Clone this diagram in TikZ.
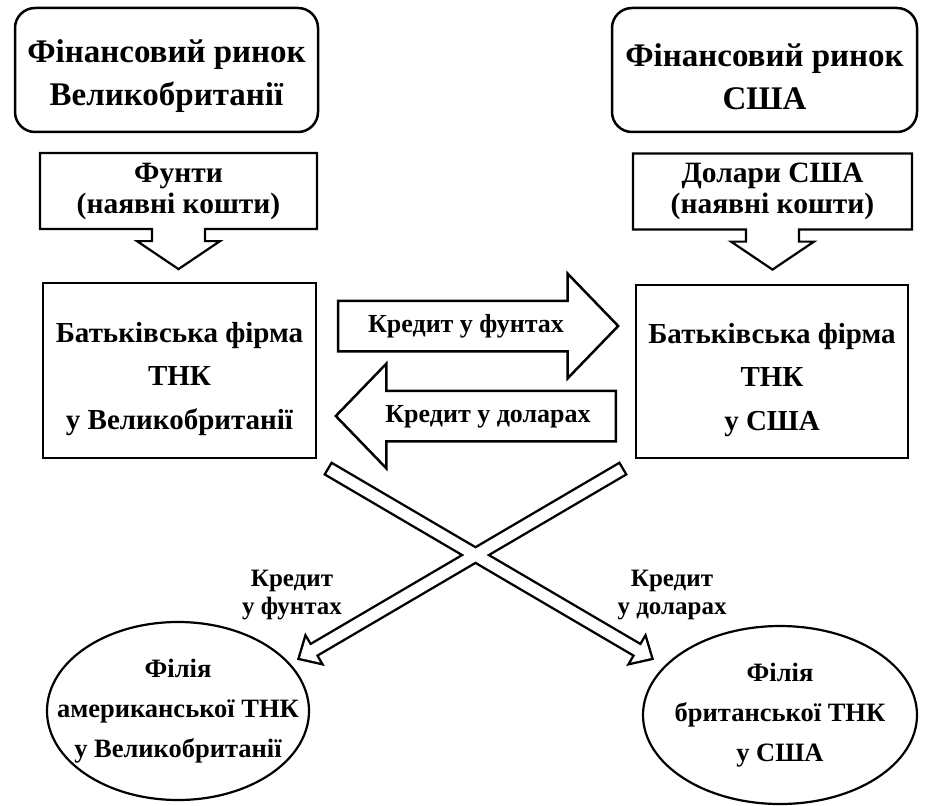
\documentclass[tikz,border=0pt]{standalone}
\usepackage{fontspec}
\setmainfont{Liberation Serif}
\usetikzlibrary{shapes.geometric,shapes.arrows,calc,positioning}

% outline of a thin hollow arrow from #1 to #2, head base at #3
\newcommand{\xarrowpath}[3]{($(#1)!5.5pt!90:(#2)$) -- ($(#3)!5.5pt!90:(#2)$) -- ($(#3)!14pt!90:(#2)$) -- (#2)
  -- ($(#3)!14pt!-90:(#2)$) -- ($(#3)!5.5pt!-90:(#2)$) -- ($(#1)!5.5pt!-90:(#2)$) -- cycle}

\begin{document}
\begin{tikzpicture}[x=1pt, y=-1pt,
  market/.style={draw, line width=2.5pt, rounded corners=20pt, minimum width=303pt, minimum height=124pt,
    align=center, text height=79pt, font=\fontsize{33}{43}\selectfont\bfseries},
  cash/.style={arrow box, draw, line width=2.2pt, minimum width=277pt, minimum height=76pt, align=center,
    arrow box arrows={south:39pt from border}, arrow box shaft width=53pt, arrow box head extend=15pt,
    arrow box head indent=0pt, arrow box tip angle=112, font=\fontsize{29.5}{31}\selectfont\bfseries},
  firm/.style={draw, line width=2.5pt, minimum width=273pt, minimum height=175pt, align=center,
    text height=124pt, font=\fontsize{29}{43.5}\selectfont\bfseries},
  credit/.style={single arrow, draw, line width=2.5pt, minimum height=280pt, single arrow head extend=27pt,
    single arrow tip angle=92, inner xsep=6pt, inner ysep=11.5pt, text height=19pt, text depth=6pt,
    font=\fontsize{26}{30}\selectfont\bfseries},
  branch/.style={ellipse, draw, line width=2.2pt, inner xsep=-45pt, inner ysep=0pt, align=center,
    font=\fontsize{26.5}{40}\selectfont\bfseries},
  note/.style={align=center, font=\fontsize{25}{28}\selectfont\bfseries}]
  \useasboundingbox (0,0) rectangle (928,805);

  \node[market] (topL) at (166.5,70) {Фінансовий ринок\\Великобританії};
  \node[market, minimum width=305pt] (topR) at (764.5,70) {Фінансовий ринок\\США};

  \node[cash] (cashL) at (178.5,191) {Фунти\\(наявні кошти)};
  \node[cash, minimum width=279pt] (cashR) at (772.5,191.5) {Долари США\\(наявні кошти)};

  \node[firm] (firmL) at (179.5,370.5) {Батьківська фірма\\ТНК\\у Великобританії};
  \node[firm, minimum width=272pt, minimum height=173pt] (firmR) at (772,371.5) {Батьківська фірма\\ТНК\\у США};

  \node[credit] (poundLoan) at (466,326) {Кредит у фунтах};
  \node[credit, shape border rotate=180] (dollarLoan) at (488,416) {Кредит у доларах};

  \node[branch, minimum width=262pt, minimum height=178pt] (ellL) at (178,711) {Філія\\американської ТНК\\у Великобританії};
  \node[branch, minimum width=274pt, minimum height=178pt] (ellR) at (780,715) {Філія\\британської ТНК\\у США};

  \node[note] (noteL) at (292,595) {Кредит\\у фунтах};
  \node[note] (noteR) at (672,595) {Кредит\\у доларах};

  % crossing credit flows
  \coordinate (aS) at ($(firmL.south east)+(12,10)$);
  \coordinate (aT) at ($(ellR.center)+(-129,-57)$);
  \coordinate (aH) at ($(aT)!15pt!(aS)$);
  \coordinate (bS) at ($(firmR.south west)+(-13,10)$);
  \coordinate (bT) at ($(ellL.center)+(122,-53)$);
  \coordinate (bH) at ($(bT)!15pt!(bS)$);
  \draw[line width=4.8pt] \xarrowpath{aS}{aT}{aH} \xarrowpath{bS}{bT}{bH};
  \fill[white] \xarrowpath{aS}{aT}{aH} \xarrowpath{bS}{bT}{bH};
\end{tikzpicture}
\end{document}
